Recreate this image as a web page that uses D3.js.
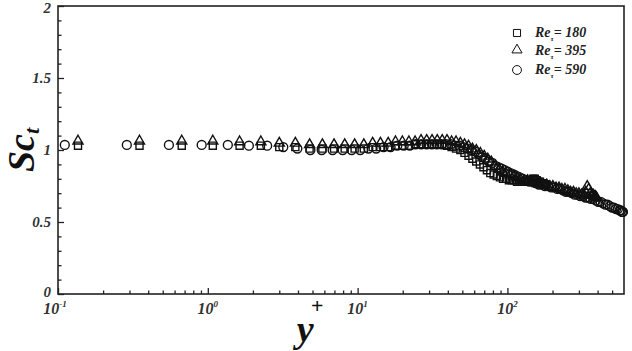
<!DOCTYPE html>
<html><head><meta charset="utf-8">
<script src="https://cdn.jsdelivr.net/npm/d3@7"></script>
<style>
html,body{margin:0;padding:0;background:#fff;}
</style></head>
<body><svg id="c" width="632" height="351"></svg>
<script>
const seriesNames = ["Re180","Re395","Re590"];
const legendNums = ["180","395","590"];
const xMajorTicks = [0.1,1,10,100];
const xTickExp = ["-1","0","1","2"];
const yMajorTicks = [0,0.5,1,1.5,2];
const yTickLabels = ["0","0.5","1","1.5","2"];

const yplus180 = [0.136,0.35,0.67,1.08,1.63,2.26,3.0,3.84,4.78,5.82,6.96,8.2,9.55,11.0,12.6,14.2,16.0,17.9,19.9,22.0,24.2,26.5,28.9,31.4,34.0,36.7,39.5,42.4,45.4,48.5,51.7,55.0,58.4,61.9,65.5,69.2,73.0,76.9,80.9,85.0,89.2,93.5,97.9,102.3,106.8,111.3,115.9,120.5,125.1,129.7,134.3,138.9,143.4,147.9,152.3,156.6,160.8,164.8,168.6,172.1,175.2,177.8,179.5];
const sct180 = [1.03,1.03,1.03,1.03,1.03,1.03,1.02,1.02,1.01,1.01,1.01,1.01,1.01,1.01,1.02,1.02,1.02,1.03,1.03,1.03,1.04,1.04,1.04,1.04,1.04,1.04,1.03,1.02,1.01,1.0,0.98,0.96,0.94,0.92,0.90,0.88,0.86,0.84,0.83,0.82,0.81,0.80,0.80,0.79,0.79,0.79,0.78,0.78,0.78,0.78,0.78,0.78,0.79,0.80,0.80,0.79,0.78,0.78,0.77,0.77,0.76,0.76,0.76];

const yplus395 = [0.136,0.35,0.67,1.08,1.63,2.26,3.0,3.84,4.78,5.82,6.96,8.2,9.55,11.0,12.6,14.2,16.0,17.9,19.9,22.0,24.2,26.5,28.9,31.4,34.0,36.7,39.5,42.4,45.4,48.5,51.7,55,58.4,62,66,70,74,78,83,88,93,98,104,110,116,122,129,136,143,150,158,166,174,183,192,201,211,221,231,242,253,264,276,288,300,312,324,333,341,349,357,366,374,381,387,391,394];
const sct395 = [1.055,1.055,1.055,1.055,1.05,1.05,1.04,1.04,1.03,1.03,1.03,1.03,1.03,1.03,1.04,1.04,1.04,1.05,1.05,1.05,1.05,1.06,1.06,1.06,1.06,1.06,1.06,1.05,1.05,1.04,1.03,1.02,1.0,0.99,0.97,0.95,0.93,0.91,0.88,0.86,0.84,0.83,0.82,0.81,0.80,0.79,0.78,0.78,0.77,0.77,0.76,0.76,0.75,0.75,0.74,0.74,0.73,0.73,0.72,0.72,0.71,0.70,0.70,0.69,0.69,0.68,0.68,0.70,0.74,0.72,0.69,0.68,0.68,0.67,0.67,0.66,0.66];

const yplus590 = [0.111,0.288,0.55,0.91,1.36,1.88,2.49,3.19,3.96,4.84,5.76,6.81,7.95,9.12,10.4,11.8,13.3,14.9,16.6,18.4,20.3,22.3,24.4,26.6,28.9,31.3,33.8,36.4,39.1,41.9,44.8,47.8,50.9,54.1,57.4,60.8,64.3,67.9,71.6,75.4,79.3,83.3,87.4,91.6,95.9,100.3,105,110,115,121,127,133,140,147,154,162,170,178,187,196,205,215,225,235,246,257,269,281,293,306,319,332,346,360,374,389,404,419,435,451,467,483,499,515,531,546,560,572,581,587,590];
const sct590 = [1.035,1.035,1.035,1.035,1.035,1.03,1.03,1.02,1.01,1.0,1.0,1.0,1.0,1.0,1.0,1.01,1.01,1.02,1.02,1.03,1.03,1.03,1.04,1.04,1.04,1.04,1.04,1.04,1.04,1.04,1.03,1.03,1.02,1.01,1.0,0.99,0.97,0.95,0.94,0.92,0.91,0.89,0.88,0.87,0.86,0.85,0.84,0.83,0.82,0.81,0.80,0.79,0.78,0.78,0.77,0.76,0.76,0.75,0.75,0.74,0.74,0.73,0.73,0.72,0.71,0.71,0.70,0.69,0.69,0.68,0.68,0.67,0.67,0.66,0.66,0.65,0.64,0.64,0.63,0.62,0.62,0.61,0.60,0.60,0.59,0.59,0.58,0.58,0.57,0.57,0.57];

const svg = d3.select("#c");
const L=58, R=624, T=6, B=294;
const x = d3.scaleLog().domain([0.1,600]).range([L,R]);
const y = d3.scaleLinear().domain([0,2]).range([B,T]);

const stroke="#222";
const xMinor=[];
[0.1,1,10,100].forEach(d=>{for(let k=2;k<=9;k++){const v=d*k; if(v<600) xMinor.push(v);}});
const yMinor=d3.range(0,21).map(i=>i/10).filter(v=>Math.abs(v*2-Math.round(v*2))>1e-6);

function styleAxis(g){g.select(".domain").remove();g.selectAll("line").attr("stroke",stroke).attr("stroke-width",1.3);g.selectAll("text").remove();}
svg.append("g").attr("transform",`translate(0,${B})`).call(d3.axisBottom(x).tickValues(xMajorTicks).tickSize(-6)).call(styleAxis);
svg.append("g").attr("transform",`translate(0,${B})`).call(d3.axisBottom(x).tickValues(xMinor).tickSize(-3.5)).call(styleAxis);
svg.append("g").attr("transform",`translate(${L},0)`).call(d3.axisLeft(y).tickValues(yMajorTicks).tickSize(-6)).call(styleAxis);
svg.append("g").attr("transform",`translate(${L},0)`).call(d3.axisLeft(y).tickValues(yMinor).tickSize(-3.5)).call(styleAxis);

svg.append("rect").attr("x",L).attr("y",T).attr("width",R-L).attr("height",B-T)
  .attr("fill","none").attr("stroke",stroke).attr("stroke-width",1.6);

const FF='"Liberation Serif"';
function bi(sel){return sel.style("font-family",FF).attr("font-weight","bold").attr("font-style","italic");}
bi(svg.append("g").selectAll("text").data(yMajorTicks).join("text"))
  .attr("x",51).attr("y",(d,i)=>y(d)+5-(i===0?2:0)+(i===4?2:0)).attr("text-anchor","end")
  .attr("font-size",15).attr("fill","#333")
  .text((d,i)=>yTickLabels[i]);
const xl=bi(svg.append("g").selectAll("text").data(xMajorTicks).join("text"))
  .attr("x",(d,i)=>x(d)+ (i===0?-3:0)).attr("y",314).attr("text-anchor","middle")
  .attr("font-size",16).attr("fill","#333");
xl.append("tspan").text("10");
xl.append("tspan").attr("dy",-7).attr("font-size",9).text((d,i)=>xTickExp[i]);

const xt=bi(svg.append("text")).attr("x",310).attr("y",342).attr("text-anchor","middle")
  .attr("font-size",38).attr("fill","#111");
xt.append("tspan").text("y");
xt.append("tspan").attr("dy",-29).attr("dx",-3).attr("font-size",22).text("+");

const yt=bi(svg.append("text")).attr("transform","translate(34,150) rotate(-90)").attr("text-anchor","middle")
  .attr("font-size",38).attr("fill","#111");
yt.append("tspan").text("Sc");
yt.append("tspan").attr("dy",5).attr("font-size",22).text("t");

const symbols=[d3.symbolSquare,d3.symbolTriangle,d3.symbolCircle];
const sizes=[50,44,62];
const yplusAll=[yplus180,yplus395,yplus590];
const sctAll=[sct180,sct395,sct590];
const plot=svg.append("g");
seriesNames.forEach((name,s)=>{
  const pts=yplusAll[s].map((v,i)=>({x:v,y:sctAll[s][i]}));
  plot.append("g").selectAll("path").data(pts).join("path")
    .attr("transform",d=>`translate(${x(d.x)},${y(d.y)+(s===1?-1:0)})`)
    .attr("d",d3.symbol().type(symbols[s]).size(sizes[s]))
    .attr("fill","none").attr("stroke","#111").attr("stroke-width",1.4);
});

const lg=svg.append("g");
const rowsY=[33,51,70];
seriesNames.forEach((n,i)=>{
  lg.append("path").attr("transform",`translate(517,${rowsY[i]+(i===1?-1:0)})`)
    .attr("d",d3.symbol().type(symbols[i]).size(sizes[i]))
    .attr("fill","none").attr("stroke","#111").attr("stroke-width",1);
  const t=bi(lg.append("text")).attr("x",535).attr("y",rowsY[i]+4)
    .attr("font-size",14).attr("fill","#222");
  t.append("tspan").text("Re");
  t.append("tspan").attr("dy",4).attr("font-size",7).text("τ");
  t.append("tspan").attr("dy",-4).text("= "+legendNums[i]);
});
</script></body></html>
